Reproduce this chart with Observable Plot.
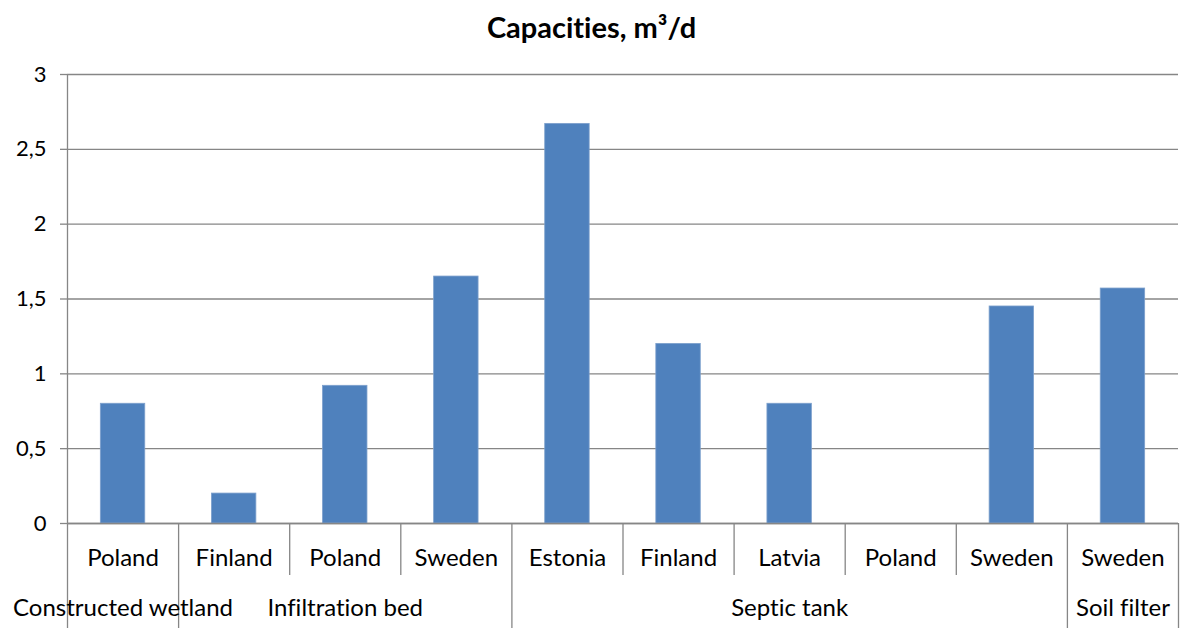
<!DOCTYPE html>
<html><head><meta charset="utf-8">
<script src="https://cdn.jsdelivr.net/npm/d3@7"></script>
<script src="https://cdn.jsdelivr.net/npm/@observablehq/plot@0.6"></script>
<style>
body{margin:0;background:#fff;}
#title{width:1183px;height:43px;padding-top:12px;font-family:Lato,sans-serif;font-weight:bold;font-size:29px;line-height:30px;text-align:center;color:#000;font-variant-ligatures:none;}
svg{display:block;font-variant-ligatures:none;}
</style>
</head><body>
<div id="title"></div>
<div id="chart"></div>
<script>
const title = "Capacities, m³/d";
const systems = ["Constructed wetland","Infiltration bed","Infiltration bed","Infiltration bed","Septic tank","Septic tank","Septic tank","Septic tank","Septic tank","Soil filter"];
const countries = ["Poland","Finland","Poland","Sweden","Estonia","Finland","Latvia","Poland","Sweden","Sweden"];
const capacities = [0.8,0.2,0.92,1.65,2.67,1.2,0.8,null,1.45,1.57];
const yTicks = [0,0.5,1,1.5,2,2.5,3];

document.getElementById("title").textContent = title;

const bars = countries.map((c,i)=>({i, country:c, system:systems[i], value:capacities[i]}));
const groups = d3.groups(bars, d=>d.system).map(([name, items])=>({name, start:items[0].i, end:items[items.length-1].i+1}));
const n = countries.length;
const boundaries = d3.range(0, n+1).map(i=>({b:i, long: i===0 || i===n || systems[i]!==systems[i-1]}));

const W=1183, H=573, mL=67, mR=5, mT=19, mB=105;
const plotH = H-mT-mB;
const band = (W-mL-mR)/n;
const grey = "#868686";
const fs = 24;

const chart = Plot.plot({
  width:W, height:H, marginLeft:mL, marginRight:mR, marginTop:mT, marginBottom:mB,
  style:{fontFamily:"Lato, sans-serif", fontSize:fs+"px", color:"#000", background:"#fff", overflow:"visible"},
  x:{domain:[0,n], axis:null},
  y:{domain:[0,3], axis:null},
  marks:[
    Plot.gridY(yTicks, {stroke:grey, strokeOpacity:1, strokeWidth:1.3}),
    Plot.axisY(yTicks, {tickSize:7, tickPadding:14, tickFormat:d=>String(d).replace(".",","), stroke:grey, strokeWidth:1.3, fill:"#000", fontSize:22, label:null}),
    Plot.rectY(bars.filter(d=>d.value!=null), {x1:"i", x2:d=>d.i+1, y1:0, y2:"value", fill:"#4F81BD", stroke:"#7DA0CC", strokeWidth:0.8, insetLeft:band*0.3, insetRight:band*0.3}),
    Plot.ruleX([0], {stroke:grey, strokeWidth:1.3}),
    Plot.ruleX(boundaries.filter(d=>!d.long), {x:"b", stroke:grey, strokeWidth:1.3, insetTop:plotH, insetBottom:-52}),
    Plot.ruleX(boundaries.filter(d=>d.long), {x:"b", stroke:grey, strokeWidth:1.3, insetTop:plotH, insetBottom:-mB}),
    Plot.ruleY([0], {stroke:grey, strokeWidth:1.3}),
    Plot.text(bars, {x:d=>d.i+0.5, frameAnchor:"bottom", dy:42, text:"country", fill:"#000", fontSize:fs}),
    Plot.text(groups, {x:d=>(d.start+d.end)/2, frameAnchor:"bottom", dy:92, text:"name", fill:"#000", fontSize:fs})
  ]
});
document.getElementById("chart").appendChild(chart);
</script>
</body></html>
